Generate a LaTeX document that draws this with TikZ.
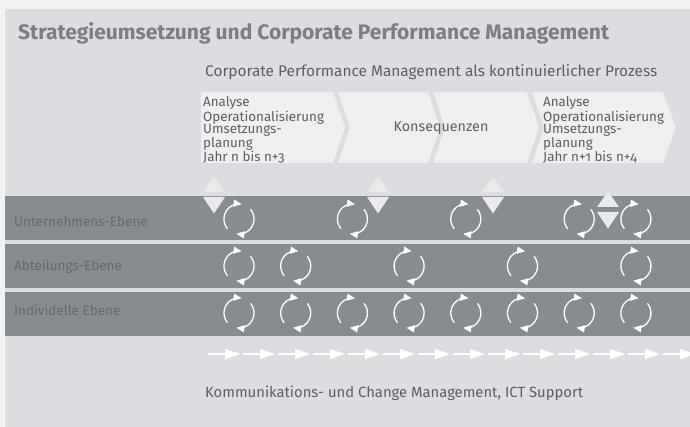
\documentclass[tikz,border=0pt]{standalone}
\usepackage{fontspec}
\setmainfont{Fira Sans}[Numbers=OldStyle]
\usetikzlibrary{arrows.meta}

\definecolor{outerbg}{HTML}{F1F2F4}
\definecolor{panelbg}{HTML}{DCDDE0}
\definecolor{chevbg}{HTML}{EEEFF0}
\definecolor{bandbg}{HTML}{878C91}
\definecolor{bandtxt}{HTML}{65696E}
\definecolor{tribg}{HTML}{E9EAEC}
\definecolor{maintxt}{HTML}{5B5E62}
\definecolor{titletxt}{HTML}{7B7E82}

\begin{document}
\begin{tikzpicture}[x=1pt,y=1pt,yscale=-1,
  chev/.style={fill=chevbg},
  band/.style={fill=bandbg},
  tri/.style={fill=tribg},
  chevtxt/.style={anchor=north west,inner sep=0pt,align=left,text=maintxt,font=\fontsize{13.4}{12.6}\selectfont},
  lvl/.style={anchor=base west,inner sep=0pt,text=bandtxt,font=\fontsize{13.5}{15}\selectfont},
  flow/.style={white,line width=1.4pt,-{Triangle[length=15pt,width=10pt]}},
  cycl/.style={white,line width=1.3pt,-{Triangle[length=8pt,width=7pt]}},
  cyc/.pic={
    \draw[cycl] plot[domain=-40:100,samples=30] ({15*cos(\x)},{-15*sin(\x)});
    \draw[cycl] plot[domain=140:280,samples=30] ({15*cos(\x)},{-15*sin(\x)});
  },
  updn/.pic={
    \fill[tri] (-11,-2.5) -- (11,-2.5) -- (0,-19) -- cycle;
    \fill[tri] (-11,2.5) -- (11,2.5) -- (0,18) -- cycle;
  }]
\useasboundingbox (0,0) rectangle (690,427);

%Shape: background and panel
\fill[outerbg] (0,0) rectangle (690,427);
\fill[panelbg] (5,9) rectangle (690,427);

% Text Node
\node[anchor=base west,inner sep=0pt,text=titletxt,font=\fontsize{21}{24}\selectfont\bfseries] (title) at (18,40) {Strategieumsetzung und Corporate Performance Management};
% Text Node
\node[anchor=base west,inner sep=0pt,text=maintxt,font=\fontsize{15.4}{17}\selectfont] (subtitle) at (205,77) {Corporate Performance Management als kontinuierlicher Prozess};

%Shape: process chevrons
\fill[chev] (201,92) -- (333,92) -- (345,127.5) -- (333,163) -- (201,163) -- cycle;
\fill[chev] (338,92) -- (428,92) -- (440,127.5) -- (428,163) -- (338,163) -- (350,127.5) -- cycle;
\fill[chev] (433,92) -- (527,92) -- (539,127.5) -- (527,163) -- (433,163) -- (445,127.5) -- cycle;
\fill[chev] (532,92) -- (663,92) -- (676,127.5) -- (663,163) -- (532,163) -- (544,127.5) -- cycle;

% Text Node
\node[chevtxt] (plan1) at (203,96.5) {Analyse\\Operationalisierung\\Umsetzungs-\\planung\\Jahr n bis n+3};
% Text Node
\node[anchor=center,inner sep=0pt,text=maintxt,font=\fontsize{14.3}{16}\selectfont] (kons) at (441,128) {Konsequenzen};
% Text Node
\node[chevtxt] (plan2) at (543,96.5) {Analyse\\Operationalisierung\\Umsetzungs-\\planung\\Jahr n+1 bis n+4};

%Shape: level bands
\fill[band] (5,196) rectangle (690,240);
\fill[band] (5,244) rectangle (690,288);
\fill[band] (5,292) rectangle (690,336);

% Text Node
\node[lvl] (ue) at (14,227) {Unternehmens-Ebene};
% Text Node
\node[lvl] (ae) at (14,271) {Abteilungs-Ebene};
% Text Node
\node[lvl] (ie) at (14,316) {Individelle Ebene};

%Shape: up/down markers
\pic (m1) at (214,194.5) {updn};
\pic (m2) at (378,194.5) {updn};
\pic (m3) at (493,194.5) {updn};
\pic (m4) at (608,209.5) {updn};

%Shape: cycles per level
\foreach \i in {0,2,4,6,7}
  \pic (u\i) at (239+56.7*\i,219) {cyc};
\foreach \i in {0,1,3,5,7}
  \pic (a\i) at (239+56.7*\i,266) {cyc};
\foreach \i in {0,...,7}
  \pic (n\i) at (239+56.7*\i,313) {cyc};

%Straight Lines: support arrows
\foreach \k in {0,...,13} {
  \coordinate (s\k) at (208+35*\k,354);
  \coordinate (t\k) at (240+35*\k,354);
  \draw[flow] (s\k) -- (t\k);
}

% Text Node
\node[anchor=base west,inner sep=0pt,text=maintxt,font=\fontsize{14.8}{17}\selectfont] (support) at (205,397) {Kommunikations- und Change Management, ICT Support};

\end{tikzpicture}
\end{document}
